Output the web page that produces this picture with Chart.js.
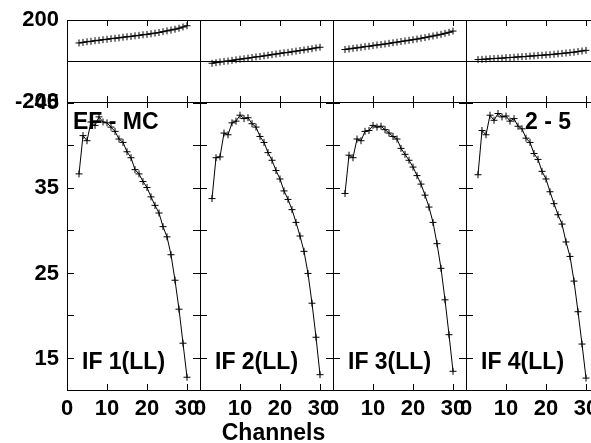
<!DOCTYPE html>
<html>
<head>
<meta charset="utf-8">
<script src="https://cdn.jsdelivr.net/npm/chart.js@4.4.1/dist/chart.umd.min.js"></script>
<style>
  html, body { margin: 0; padding: 0; background: #fff; overflow: hidden; }
  #wrap { position: relative; width: 591px; height: 443px; overflow: hidden; }
  #wrap canvas { position: absolute; left: 0; top: 0; }
</style>
</head>
<body>
<div id="wrap"></div>
<script>
// Channels plotted in every panel
const channels = [3, 4, 5, 6, 7, 8, 9, 10, 11, 12, 13, 14, 15, 16, 17, 18, 19, 20, 21, 22, 23, 24, 25, 26, 27, 28, 29, 30];

// Amplitude per IF
const ampIF1 = [36.7, 41.2, 40.6, 42.8, 42.4, 43.4, 42.8, 42.7, 42.2, 41.7, 40.8, 40.4, 39.3, 38.6, 37.2, 36.7, 35.8, 35.1, 34.0, 33.0, 32.1, 30.5, 29.3, 27.2, 24.2, 20.8, 16.8, 12.8];
const ampIF2 = [33.8, 38.6, 38.7, 41.5, 41.3, 42.7, 42.9, 43.6, 43.2, 43.3, 42.6, 42.2, 41.1, 40.4, 39.2, 38.3, 37.1, 36.1, 34.7, 33.7, 32.5, 31.0, 29.4, 27.6, 25.0, 21.5, 17.5, 13.1];
const ampIF3 = [34.4, 38.9, 38.6, 40.8, 40.6, 41.7, 41.8, 42.4, 42.2, 42.3, 41.9, 41.5, 41.1, 40.8, 39.7, 39.0, 38.3, 37.5, 36.5, 35.5, 34.2, 32.8, 31.0, 28.5, 25.6, 21.9, 17.8, 13.5];
const ampIF4 = [36.6, 41.8, 41.3, 43.6, 43.0, 43.8, 43.4, 43.5, 42.9, 43.2, 42.3, 42.0, 40.9, 40.4, 39.1, 38.4, 37.0, 36.1, 34.6, 33.2, 31.9, 30.8, 28.7, 27.0, 24.1, 20.5, 16.7, 12.7];

// Phase per IF (degrees)
const phaseIF1 = [88, 91, 94, 96, 99, 101, 104, 106, 109, 111, 113, 116, 118, 120, 123, 125, 128, 130, 133, 136, 139, 143, 147, 151, 155, 160, 166, 172];
const phaseIF2 = [-11, -8, -5, -2, 0, 3, 6, 9, 11, 14, 17, 20, 22, 25, 28, 31, 34, 37, 40, 42, 45, 48, 51, 54, 57, 60, 64, 67];
const phaseIF3 = [56, 59, 62, 64, 67, 70, 72, 75, 78, 80, 83, 86, 89, 92, 95, 98, 101, 104, 107, 111, 114, 118, 122, 126, 130, 135, 140, 146];
const phaseIF4 = [7, 8, 9, 11, 12, 13, 14, 16, 17, 18, 20, 21, 22, 24, 25, 27, 28, 30, 31, 33, 35, 37, 39, 41, 43, 46, 49, 52];

// Labels
const ifLabels = ['IF 1(LL)', 'IF 2(LL)', 'IF 3(LL)', 'IF 4(LL)'];
const ampTickLabels = [15, 25, 35, 45];
const phaseTickLabels = [-200, 200];
const channelTickLabels = [0, 10, 20, 30];
const sourceLabel = 'EF - MC';
const baselineLabel = '2 - 5';
const xTitle = 'Channels';

const ampSeries = [ampIF1, ampIF2, ampIF3, ampIF4];
const phaseSeries = [phaseIF1, phaseIF2, phaseIF3, phaseIF4];

// Layout (pixels)
const CANVAS_W = 640, CANVAS_H = 443;
const panelLefts = [67, 200, 333, 466];
const PANEL_W = 133;
const PHASE_TOP = 20, PHASE_BOTTOM = 102;
const AMP_TOP = 102, AMP_BOTTOM = 390;
const TICK_FONT = { family: '"Liberation Sans", Arial, sans-serif', size: 22, weight: 'bold' };
const TEXT_FONT = 'bold 23px "Liberation Sans", Arial, sans-serif';

const wrap = document.getElementById('wrap');

// Axis on one edge of a panel: border + inward tick marks.
// size = space reserved for labels (the label clip box).
function edgeAxis(position, range, size, extra) {
    const horizontal = position === 'top' || position === 'bottom';
    const axis = {
        type: 'linear',
        position: position,
        min: range.min,
        max: range.max,
        afterFit: s => {
            if (horizontal) s.height = size; else s.width = size;
            s.paddingTop = 0; s.paddingBottom = 0; s.paddingLeft = 0; s.paddingRight = 0;
        },
        border: { display: true, color: '#000', width: 1 },
        grid: {
            drawOnChartArea: false,
            drawTicks: true,
            tickLength: horizontal ? -6 : -7,
            tickColor: '#000',
            tickWidth: 1
        },
        ticks: { display: false, autoSkip: false, includeBounds: false, stepSize: range.step }
    };
    if (extra) {
        if (extra.grid) Object.assign(axis.grid, extra.grid);
        if (extra.ticks) Object.assign(axis.ticks, extra.ticks);
    }
    return axis;
}

// Draws panel annotations
const panelText = {
    id: 'panelText',
    afterDatasetsDraw(chart, args, opts) {
        const ctx = chart.ctx;
        const area = chart.chartArea;
        ctx.save();
        ctx.font = TEXT_FONT;
        ctx.fillStyle = '#000';
        ctx.textBaseline = 'alphabetic';
        (opts.items || []).forEach(t => {
            ctx.textAlign = t.align || 'left';
            const x = t.abs ? t.x : area.left + t.x;
            const y = t.abs ? t.y : area.top + t.y;
            ctx.fillText(t.text, x, y);
        });
        ctx.restore();
    }
};

function makeChart(left, top, bottom, leftSize, bottomSize, data, scales, items) {
    const canvas = document.createElement('canvas');
    canvas.width = CANVAS_W;
    canvas.height = CANVAS_H;
    canvas.style.width = CANVAS_W + 'px';
    canvas.style.height = CANVAS_H + 'px';
    wrap.appendChild(canvas);

    return new Chart(canvas, {
        type: 'line',
        data: {
            datasets: [{
                data: channels.map((c, i) => ({ x: c, y: data[i] })),
                borderColor: '#000',
                borderWidth: 1,
                pointStyle: 'cross',
                pointRadius: 3.5,
                pointBorderWidth: 1,
                pointBorderColor: '#000',
                fill: false,
                tension: 0
            }]
        },
        options: {
            responsive: false,
            animation: false,
            devicePixelRatio: 1,
            events: [],
            layout: {
                padding: {
                    left: left - leftSize,
                    top: top,
                    right: CANVAS_W - left - PANEL_W,
                    bottom: CANVAS_H - bottom - bottomSize
                }
            },
            scales: scales,
            plugins: {
                legend: { display: false },
                tooltip: { enabled: false },
                panelText: { items: items }
            }
        },
        plugins: [panelText]
    });
}

const xRange = { min: 0, max: 33.25, step: 10 };
const phaseRange = { min: -200, max: 200, step: 200 };
const ampRange = { min: 11.3, max: 45.15, step: 5 };

panelLefts.forEach((left, p) => {
    const firstPanel = p === 0;
    const leftSize = firstPanel ? left : 0;
    const bottomSize = CANVAS_H - AMP_BOTTOM;

    // Phase panel (top)
    makeChart(left, PHASE_TOP, PHASE_BOTTOM, leftSize, 0, phaseSeries[p], {
        x: edgeAxis('bottom', xRange, 0),
        x2: edgeAxis('top', xRange, 0),
        y: edgeAxis('left', phaseRange, leftSize, {
            grid: {
                drawOnChartArea: true,
                color: ctx => (ctx.tick && ctx.tick.value === 0) ? '#000' : 'rgba(0,0,0,0)'
            },
            ticks: {
                display: firstPanel,
                color: '#000',
                font: TICK_FONT,
                padding: 15,
                callback: v => phaseTickLabels.includes(v) ? String(v) : ''
            }
        }),
        y2: edgeAxis('right', phaseRange, 0)
    }, []);

    // Amplitude panel (bottom)
    const items = [{ text: ifLabels[p], x: 15, y: 267 }];
    if (p === 0) items.push({ text: sourceLabel, x: 6, y: 27 });
    if (p === 3) items.push({ text: baselineLabel, x: 59, y: 27 });
    if (p === 1) items.push({ text: xTitle, x: 273.5, y: 440, abs: true, align: 'center' });

    makeChart(left, AMP_TOP, AMP_BOTTOM, leftSize, bottomSize, ampSeries[p], {
        x: edgeAxis('bottom', xRange, bottomSize, {
            ticks: {
                display: true,
                color: '#000',
                font: TICK_FONT,
                padding: 12,
                maxRotation: 0,
                callback: v => channelTickLabels.includes(v) ? String(v) : ''
            }
        }),
        x2: edgeAxis('top', xRange, 0),
        y: edgeAxis('left', ampRange, leftSize, {
            ticks: {
                display: firstPanel,
                color: '#000',
                font: TICK_FONT,
                padding: 15,
                callback: v => ampTickLabels.includes(v) ? String(v) : ''
            }
        }),
        y2: edgeAxis('right', ampRange, 0)
    }, items);
});
</script>
</body>
</html>
